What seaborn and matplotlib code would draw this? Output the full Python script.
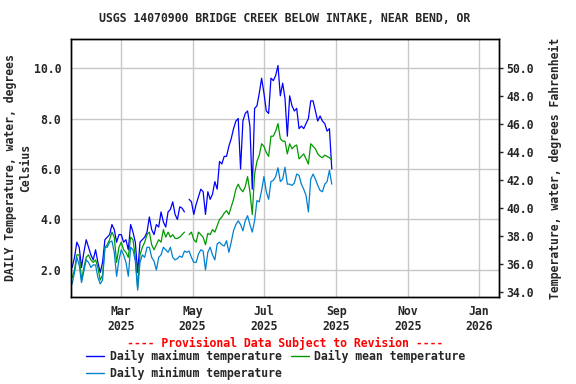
import numpy as np
import pandas as pd
import seaborn as sns
import matplotlib
matplotlib.use("Agg")
import matplotlib.pyplot as plt
import matplotlib.dates as mdates
from matplotlib.ticker import FixedLocator, FormatStrFormatter

# daily values read every 2nd day, 2025-01-18 .. 2025-08-28 (NaN = gap in record)
start_date = "2025-01-18"
nan = np.nan
t_max = [2.1, 2.5, 3.1, 2.9, 2.1, 2.7, 3.2, 2.9, 2.6, 2.4, 2.8, 2.3, 1.9, 2.3, 3.2, 3.3,
         3.4, 3.8, 3.6, 3.1, 3.4, 3.4, 3.1, 3.2, 2.8, 3.8, 3.5, 3.1, 1.9, 3.1, 3.2, 3.3,
         3.5, 4.1, 3.6, 3.4, 3.8, 3.7, 4.3, 3.9, 3.7, 4.3, 4.4, 4.7, 4.2, 4.0, 4.5, 4.45,
         4.3, nan, 4.8, 4.7, 4.2, 4.6, 4.9, 5.2, 5.1, 4.2, 5.1, 4.8, 5.0, 5.5, 5.2, 6.3,
         6.2, 6.5, 6.5, 6.9, 7.2, 7.6, 7.9, 8.0, 6.0, 7.9, 8.2, 8.3, 7.7, 5.2, 8.4, 8.5,
         9.0, 9.6, 9.0, 8.3, 8.2, 9.6, 9.5, 9.7, 10.1, 8.9, 9.4, 8.8, 7.3, 8.9, 8.5, 8.3,
         8.4, 7.6, 7.7, 7.6, 7.8, 8.0, 8.7, 8.7, 8.3, 7.9, 8.1, 7.9, 7.8, 7.5, 7.6, 6.0]
t_mean = [1.7, 2.0, 2.6, 2.6, 1.6, 2.1, 2.5, 2.6, 2.4, 2.3, 2.4, 2.1, 1.6, 1.8, 2.9, 3.0,
          3.2, 3.5, 3.3, 2.3, 2.9, 3.1, 2.8, 2.7, 2.5, 3.3, 3.2, 2.5, 1.3, 2.6, 2.9, 3.1,
          3.4, 3.5, 3.0, 2.8, 3.0, 3.2, 3.1, 3.6, 3.3, 3.5, 3.3, 3.4, 3.25, 3.25, 3.3, 3.4,
          3.5, nan, 3.4, 3.5, 3.2, 3.1, 3.5, 3.4, 3.3, 3.0, 3.45, 3.4, 3.6, 3.5, 3.75, 4.0,
          4.1, 4.25, 4.35, 4.2, 4.5, 4.8, 5.2, 5.4, 5.2, 5.1, 5.3, 5.7, 5.1, 4.2, 5.8, 6.3,
          6.55, 7.0, 6.9, 6.65, 6.5, 7.3, 7.3, 7.5, 7.8, 7.2, 7.1, 7.1, 6.6, 7.0, 6.8, 6.9,
          6.95, 6.4, 6.5, 6.6, 6.4, 6.2, 7.0, 6.9, 6.8, 6.6, 6.5, 6.45, 6.55, 6.5, 6.45, 6.35]
t_min = [1.45, 1.9, 2.5, 2.2, 1.5, 1.95, 2.4, 2.3, 2.1, 2.2, 2.2, 1.7, 1.45, 1.6, 2.9, 2.9,
         3.1, 3.15, 2.7, 1.75, 2.4, 2.8, 2.6, 2.3, 1.75, 2.9, 2.8, 2.35, 1.2, 2.3, 2.6, 2.5,
         2.9, 2.9, 2.5, 2.35, 2.0, 2.5, 2.6, 2.9, 2.8, 2.7, 2.9, 2.5, 2.4, 2.45, 2.55, 2.5,
         2.75, 2.7, 2.75, 2.5, 2.3, 2.3, 2.63, 2.8, 2.75, 2.0, 2.7, 2.9, 2.6, 2.4, 3.03, 3.1,
         3.0, 2.95, 3.16, 2.7, 3.1, 3.56, 3.8, 3.95, 3.8, 3.55, 3.95, 4.15, 3.8, 3.5, 3.95, 4.75,
         4.7, 5.15, 5.7, 5.1, 4.8, 5.5, 5.55, 5.7, 6.05, 5.5, 5.6, 6.07, 5.4, 5.4, 5.35, 5.45,
         5.8, 5.75, 5.4, 5.2, 4.95, 4.3, 5.6, 5.8, 5.6, 5.35, 5.15, 5.1, 5.4, 5.5, 5.95, 5.4]

series_names = ["Daily maximum temperature", "Daily mean temperature", "Daily minimum temperature"]
colors = ["#0000ff", "#009900", "#0080d0"]
f_ticks = [34, 36, 38, 40, 42, 44, 46, 48, 50]

dates = pd.date_range(start_date, periods=len(t_max), freq="2D")
frames = []
for name, vals in zip(series_names, [t_max, t_mean, t_min]):
    d = pd.DataFrame({"date": dates, "temp": vals, "series": name})
    d["seg"] = d["temp"].isna().cumsum()
    frames.append(d.dropna())
df = pd.concat(frames)

sns.set_style("white")
plt.rcParams["font.family"] = ["DejaVu Sans Mono"]
plt.rcParams["font.weight"] = "bold"
plt.rcParams["font.size"] = 8.3

fig = plt.figure(figsize=(5.76, 3.84), dpi=100)
ax = fig.add_axes([71 / 576, 1 - 297 / 384, 428 / 576, 258 / 384])

sns.lineplot(data=df, x="date", y="temp", hue="series", units="seg", estimator=None,
             palette=dict(zip(series_names, colors)), hue_order=series_names,
             linewidth=0.9, ax=ax, legend=False)

ax.set_xlim(pd.Timestamp("2025-01-17"), pd.Timestamp("2026-01-18"))
ax.set_ylim(0.93, 11.15)
ax.set_yticks([2, 4, 6, 8, 10])
ax.yaxis.set_major_formatter(FormatStrFormatter("%.1f"))
ax.xaxis.set_major_locator(mdates.MonthLocator(bymonth=[1, 3, 5, 7, 9, 11]))
ax.xaxis.set_major_formatter(mdates.DateFormatter("%b\n%Y"))
ax.grid(True, color="#c8c8c8", linewidth=1)
ax.tick_params(axis="both", length=0, pad=7, labelsize=8.3)
ax.tick_params(axis="x", pad=6)
for s in ax.spines.values():
    s.set_color("black")
    s.set_linewidth(1)
ax.set_xlabel("")
ax.set_ylabel("DAILY Temperature, water, degrees\nCelsius", fontsize=8.3, labelpad=1.5,
              fontweight="bold")

ax2 = ax.twinx()
c0, c1 = ax.get_ylim()
ax2.set_ylim(c0 * 9 / 5 + 32, c1 * 9 / 5 + 32)
ax2.yaxis.set_major_locator(FixedLocator(f_ticks))
ax2.yaxis.set_major_formatter(FormatStrFormatter("%.1f"))
ax2.tick_params(axis="y", length=3, width=1, pad=2, labelsize=8.3, direction="out")
ax2.set_ylabel("Temperature, water, degrees Fahrenheit", fontsize=8.3, labelpad=11,
               fontweight="bold")
for s in ax2.spines.values():
    s.set_color("black")
    s.set_linewidth(1)

ax.set_title("USGS 14070900 BRIDGE CREEK BELOW INTAKE, NEAR BEND, OR", fontsize=8.3,
             fontweight="bold", pad=12)

fig.text(285 / 576, 1 - 343 / 384, "---- Provisional Data Subject to Revision ----",
         color="red", ha="center", va="center", fontsize=8.3, fontweight="bold")

handles = [plt.Line2D([], [], color=c, linewidth=1) for c in colors]
order = [0, 2, 1]
fig.legend([handles[i] for i in order], [series_names[i] for i in order], ncol=2,
           loc="upper left", bbox_to_anchor=(86 / 576, 1 - 350 / 384), frameon=False,
           fontsize=8.3, handlelength=1.6, handletextpad=0.45, columnspacing=0.8,
           labelspacing=0.3, borderaxespad=0, borderpad=0)

fig.savefig("out.png", dpi=100)
